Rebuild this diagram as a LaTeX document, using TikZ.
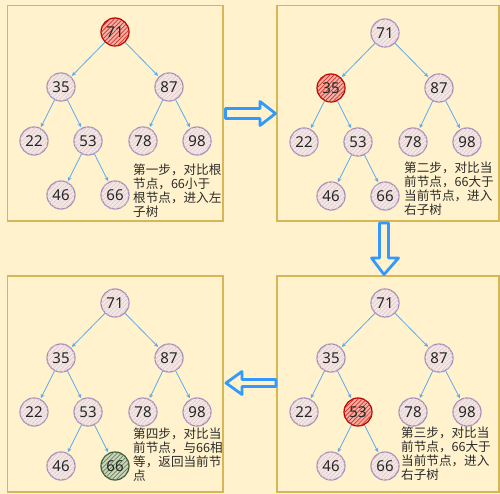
\documentclass[tikz,border=0pt]{standalone}
\usepackage{fontspec}
\setmainfont{Noto Sans}
\newfontfamily\cjk{Noto Sans CJK SC}
\usetikzlibrary{positioning,patterns.meta,arrows.meta}

\definecolor{bgyellow}{HTML}{FFF2CC}
\definecolor{boxline}{HTML}{D6B656}
\definecolor{nodeline}{HTML}{A58BBA}
\definecolor{nodefill}{HTML}{F2E9E6}
\definecolor{hatchpink}{HTML}{E6CACA}
\definecolor{edgeblue}{HTML}{5DAAF0}
\definecolor{arrowblue}{HTML}{3399FF}
\definecolor{hotline}{HTML}{B20000}
\definecolor{hotfill}{HTML}{F2B0A6}
\definecolor{hothatch}{HTML}{D8301F}
\definecolor{okline}{HTML}{3A5431}
\definecolor{okfill}{HTML}{CBD6BA}
\definecolor{okhatch}{HTML}{667F5C}
\definecolor{notetext}{HTML}{2B2B2B}

\tikzset{
  panel/.style={draw=boxline, line width=1.5pt, fill=bgyellow},
  treenode/.style={circle, draw=nodeline, line width=1.2pt, fill=nodefill,
    minimum size=28pt, inner sep=0pt, text=black!85,
    font=\fontsize{15}{15}\selectfont, pattern color=hatchpink,
    postaction={pattern={Lines[angle=45,distance=3pt,line width=0.7pt]}}},
  hotnode/.style={draw=hotline, fill=hotfill, pattern color=hothatch},
  oknode/.style={draw=okline, fill=okfill, pattern color=okhatch},
  treeedge/.style={draw=edgeblue, line width=0.8pt,
    -{Stealth[length=4pt,width=4pt]}, shorten >=1pt},
  bigarrow/.style={draw=arrowblue, line width=2.8pt, fill=bgyellow, line join=round},
  note/.style={font=\cjk\fontsize{12.6}{14}\selectfont, align=left,
    inner sep=0pt, text=notetext, anchor=north west},
  v71/.style={}, v35/.style={}, v87/.style={}, v22/.style={}, v53/.style={},
  v78/.style={}, v98/.style={}, v46/.style={}, v66/.style={}
}

% one search tree, #1 prefix, #2 root position, #3 extra options
\newcommand\searchtree[3]{%
\begin{scope}[shift={#2}, #3]
\node[treenode, v71] (#1-71) at (0,0) {71};
\node[treenode, v35] (#1-35) at (-54,55) {35};
\node[treenode, v87] (#1-87) at (54,55) {87};
\node[treenode, v22] (#1-22) at (-81,109) {22};
\node[treenode, v53] (#1-53) at (-27,109) {53};
\node[treenode, v78] (#1-78) at (28,109) {78};
\node[treenode, v98] (#1-98) at (82,109) {98};
\node[treenode, v46] (#1-46) at (-54,163) {46};
\node[treenode, v66] (#1-66) at (0,163) {66};
\draw[treeedge] (#1-71) -- (#1-35);
\draw[treeedge] (#1-71) -- (#1-87);
\draw[treeedge] (#1-35) -- (#1-22);
\draw[treeedge] (#1-35) -- (#1-53);
\draw[treeedge] (#1-87) -- (#1-78);
\draw[treeedge] (#1-87) -- (#1-98);
\draw[treeedge] (#1-53) -- (#1-46);
\draw[treeedge] (#1-53) -- (#1-66);
\end{scope}}

\begin{document}
\begin{tikzpicture}[x=1pt, y=-1pt]
\useasboundingbox (0,0) rectangle (500,494);
\fill[bgyellow] (0,0) rectangle (500,494);

% panels
\draw[panel] (7.5,5.5) rectangle (223,221);
\draw[panel] (277,5.5) rectangle (499,221);
\draw[panel] (7.5,276) rectangle (223,492);
\draw[panel] (277,276) rectangle (499,492);

% step arrows
\draw[bigarrow] (225.5,108.5) -- (260,108.5) -- (260,101.5) -- (275.5,113.5)
  -- (260,125.5) -- (260,118.5) -- (225.5,118.5) -- cycle;
\draw[bigarrow] (379.5,223) -- (388.5,223) -- (388.5,258) -- (398.5,258)
  -- (384,274.5) -- (371.5,258) -- (379.5,258) -- cycle;
\draw[bigarrow] (276,379.5) -- (242,379.5) -- (242,371.5) -- (226,383)
  -- (242,394.5) -- (242,386.5) -- (276,386.5) -- cycle;

% trees
\searchtree{a}{(115,32)}{v71/.style=hotnode}
\searchtree{b}{(385,33)}{v35/.style=hotnode}
\searchtree{c}{(385,303)}{v53/.style=hotnode}
\searchtree{d}{(115,303)}{v66/.style=oknode}

% notes
\node[note] (note1) at (133,164) {第一步，对比根\\节点，66小于\\根节点，进入左\\子树};
\node[note] (note2) at (404,162) {第二步，对比当\\前节点，66大于\\当前节点，进入\\右子树};
\node[note] (note3) at (401,427) {第三步，对比当\\前节点，66大于\\当前节点，进入\\右子树};
\node[note] (note4) at (133,428) {第四步，对比当\\前节点，与66相\\等，返回当前节\\点};
\end{tikzpicture}
\end{document}
